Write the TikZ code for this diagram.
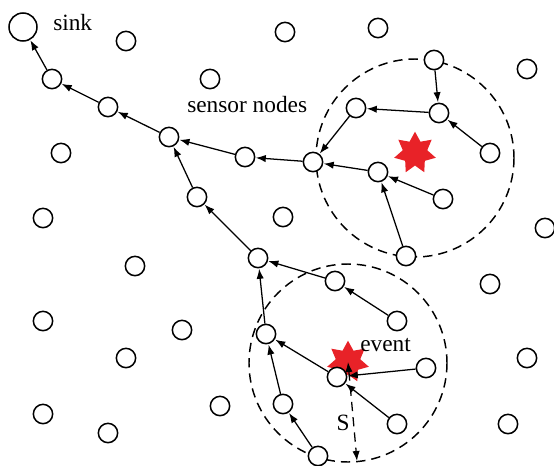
\documentclass[tikz,border=0pt]{standalone}
\usepackage{fontspec}
\setmainfont{Liberation Serif}
\usetikzlibrary{arrows.meta,shapes.geometric}
\definecolor{starred}{RGB}{232,34,40}
\tikzset{
  sn/.style={circle,draw,fill=white,line width=1.15pt,minimum size=14.5pt,inner sep=0pt},
  sinknode/.style={sn,minimum size=21pt},
  link/.style={line width=0.95pt,-{Latex[length=7.5pt,width=5.5pt]},shorten >=0.3pt},
  region/.style={dashed,dash pattern=on 7pt off 4.5pt,line width=1.1pt},
  eventstar/.style={star,star points=7,star point ratio=1.7,fill=starred,draw=none,minimum size=32pt,inner sep=0pt},
  lbl/.style={font=\fontsize{17.5}{19}\selectfont,inner sep=0pt}
}
\begin{document}
\begin{tikzpicture}[x=0.75pt,y=-0.75pt]
\useasboundingbox (0,0) rectangle (554,465);
% dashed regions
\draw[region] (415,158) circle[radius=99];
\draw[region] (348,363) circle[radius=99];
% stars
\node[eventstar] (st1) at (415,153) {};
\node[eventstar] (st2) at (348,362) {};
% nodes
\node[sinknode] (sink) at (23,27) {};
\node[sn] (n1) at (126,41) {};
\node[sn] (n2) at (285,32) {};
\node[sn] (n3) at (378,28) {};
\node[sn] (n4) at (434,60) {};
\node[sn] (n5) at (527,69) {};
\node[sn] (a1) at (52,79) {};
\node[sn] (n6) at (210,79) {};
\node[sn] (a2) at (108,107) {};
\node[sn] (b1) at (356,108) {};
\node[sn] (b2) at (439,113) {};
\node[sn] (a3) at (169,137) {};
\node[sn] (n7) at (61,153) {};
\node[sn] (b3) at (490,153) {};
\node[sn] (a4) at (245,157) {};
\node[sn] (b0) at (313,162) {};
\node[sn] (b4) at (378,172) {};
\node[sn] (a5) at (197,197) {};
\node[sn] (b5) at (443,199) {};
\node[sn] (n8) at (43,218) {};
\node[sn] (n9) at (283,217) {};
\node[sn] (n10) at (545,228) {};
\node[sn] (b6) at (406,256) {};
\node[sn] (c0) at (258,258) {};
\node[sn] (n11) at (135,266) {};
\node[sn] (c1) at (335,281) {};
\node[sn] (n12) at (490,284) {};
\node[sn] (c2) at (397,321) {};
\node[sn] (n13) at (43,321) {};
\node[sn] (n14) at (182,330) {};
\node[sn] (c3) at (266,334) {};
\node[sn] (n15) at (126,358) {};
\node[sn] (n16) at (527,358) {};
\node[sn] (c4) at (337,377) {};
\node[sn] (c5) at (426,368) {};
\node[sn] (c6) at (283,404) {};
\node[sn] (n17) at (220,406) {};
\node[sn] (n18) at (43,414) {};
\node[sn] (c7) at (397,424) {};
\node[sn] (n19) at (508,424) {};
\node[sn] (n20) at (108,433) {};
\node[sn] (c8) at (318,456) {};
% links
\draw[link] (a1) -- (sink);
\draw[link] (a2) -- (a1);
\draw[link] (a3) -- (a2);
\draw[link] (a4) -- (a3);
\draw[link] (b0) -- (a4);
\draw[link] (a5) -- (a3);
\draw[link] (c0) -- (a5);
\draw[link] (b1) -- (b0);
\draw[link] (b2) -- (b1);
\draw[link] (n4) -- (b2);
\draw[link] (b3) -- (b2);
\draw[link] (b4) -- (b0);
\draw[link] (b5) -- (b4);
\draw[link] (b6) -- (b4);
\draw[link] (c1) -- (c0);
\draw[link] (c2) -- (c1);
\draw[link] (c3) -- (c0);
\draw[link] (c4) -- (c3);
\draw[link] (c5) -- (c4);
\draw[link] (c7) -- (c4);
\draw[link] (c6) -- (c3);
\draw[link] (c8) -- (c6);
% radius S
\coordinate (sbot) at (357,461);
\draw[dashed,dash pattern=on 7pt off 4.5pt,line width=0.95pt,{Latex[length=7.5pt,width=5.5pt]}-{Latex[length=7.5pt,width=5.5pt]}] (st2.center) -- (sbot);
% labels
\node[lbl,anchor=base west] (lsink) at (53,30) {sink};
\node[lbl,anchor=base west] (lsensor) at (187,112) {sensor nodes};
\node[lbl,anchor=base west] (levent) at (360,351) {event};
\node[lbl,anchor=base] (ls) at (343,430) {S};
\end{tikzpicture}
\end{document}
